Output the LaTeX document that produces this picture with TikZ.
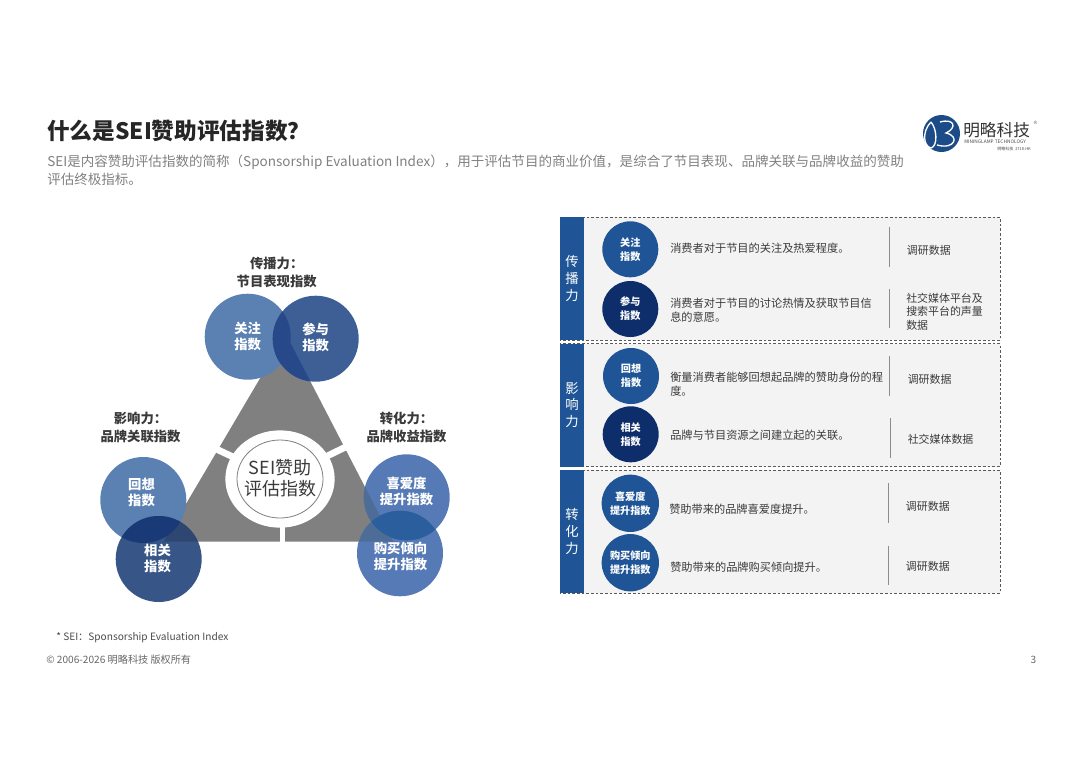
\documentclass[tikz,border=0pt]{standalone}
\usepackage{fontspec}
\setmainfont{Noto Sans CJK SC}
\usetikzlibrary{shapes.geometric}
\definecolor{midblue}{HTML}{5B80B2}
\definecolor{deepblue}{HTML}{3D5F96}
\definecolor{lensblue}{HTML}{27498A}
\definecolor{barblue}{HTML}{1F5596}
\definecolor{navyblue}{HTML}{0E2E6B}
\definecolor{panelgray}{HTML}{F3F3F3}
\definecolor{subgray}{HTML}{808080}
\definecolor{darktext}{HTML}{3A3A3A}
\begin{document}
\begin{tikzpicture}[x=0.75pt,y=-0.75pt,
  bubble/.style={circle,minimum size=64.5pt,inner sep=0pt},
  bubbletext/.style={inner sep=0pt,text=white,align=center,
    font=\fontsize{10}{12}\selectfont\bfseries},
  smallbubble/.style={circle,minimum size=42pt,inner sep=0pt,text=white,align=center,
    font=\fontsize{7.6}{10.5}\selectfont\bfseries},
  groupname/.style={align=center,text=darktext,font=\fontsize{10}{14}\selectfont\bfseries},
  barbox/.style={fill=barblue,minimum width=18pt,inner sep=0pt,text=white,align=center,
    font=\fontsize{10}{12.5}\selectfont},
  panelbox/.style={fill=panelgray,draw=black!65,line width=0.7pt,dash pattern=on 2pt off 1.5pt},
  descr/.style={anchor=west,inner sep=0pt,align=left,text=darktext,
    font=\fontsize{8.4}{10.5}\selectfont},
  source/.style={anchor=west,inner sep=0pt,align=left,text=darktext,
    font=\fontsize{8.2}{10}\selectfont},
  divider/.style={draw=black!45,line width=0.8pt},
  logoline/.style={draw=white,line width=1pt}]
  \useasboundingbox (0,0) rectangle (1080,764);
  % heading
  \node[anchor=west,inner sep=0pt,text=black!85,font=\fontsize{17}{20}\selectfont\bfseries] (title) at (47,131) {什么是SEI赞助评估指数？};
  \node[anchor=north west,inner sep=0pt,align=left,text=subgray,font=\fontsize{10.15}{13.5}\selectfont] (intro) at (47,155) {SEI是内容赞助评估指数的简称（Sponsorship Evaluation Index），用于评估节目的商业价值，是综合了节目表现、品牌关联与品牌收益的赞助\\评估终极指标。};
  % logo
  \fill[barblue!90!black] (941.5,133.5) circle (18.5);
  \draw[logoline] (931,122) .. controls (922,131) and (923,146) .. (931,148) .. controls (938,146) and (937,129) .. (931,122);
  \draw[logoline] (940,122) .. controls (955,118) and (957,128) .. (946,133) .. controls (960,136) and (955,150) .. (937,145);
  \node[anchor=west,inner sep=0pt,text=black!80,font=\fontsize{12.5}{14}\selectfont] (brand) at (963,130) {明略科技};
  \node[inner sep=0pt,text=black!50,font=\fontsize{6}{6}\selectfont] (regmark) at (1035.5,124.5) {®};
  \node[anchor=west,inner sep=0pt,text=black!70,font=\fontsize{3.6}{4}\selectfont] (brandeng) at (964,142) {MININGLAMP TECHNOLOGY};
  \node[anchor=east,inner sep=0pt,text=black!70,font=\fontsize{3}{4}\selectfont] (brandcode) at (1031,149) {明略科技\ \ 2718.HK};
  % triangle
  \coordinate (apex) at (286,334.3);
  \coordinate (leftcorner) at (163.7,541.7);
  \coordinate (rightcorner) at (393.3,541.7);
  \coordinate (gapleft) at (197,440);
  \coordinate (gapright) at (360,440);
  \coordinate (gapbottom) at (282.3,545);
  \fill[black!50] (apex) -- (leftcorner) -- (rightcorner) -- cycle;
  \coordinate (seicentre) at (280,479);
  \draw[white,line width=5pt] (seicentre) -- (gapleft);
  \draw[white,line width=5pt] (seicentre) -- (gapright);
  \draw[white,line width=3.4pt] (282.3,479) -- (gapbottom);
  \node[ellipse,fill=white,minimum width=82pt,minimum height=73pt,inner sep=0pt] (seiouter) at (seicentre) {};
  \draw[black!50,line width=0.6pt] (seicentre) ellipse (43 and 39);
  \node[inner sep=0pt,align=center,text=darktext,font=\fontsize{13.5}{15.5}\selectfont] (sei) at (280,478) {SEI赞助\\评估指数};
  % left circles
  \node[bubble,fill=midblue] (guanzhu) at (247.7,336.7) {};
  \node[bubble,fill=deepblue] (canyu) at (315.7,338.7) {};
  \node[bubble,fill=midblue] (huixiang) at (143.3,500) {};
  \node[bubble,fill=deepblue!90!black] (xiangguan) at (158.7,559) {};
  \node[bubble,fill=midblue!95!blue] (xiai) at (406.7,497.3) {};
  \node[bubble,fill=midblue!95!blue] (goumai) at (400,553.3) {};
  \begin{scope}
    \clip (315.7,338.7) circle (43);
    \fill[lensblue] (247.7,336.7) circle (43);
    \fill[lensblue] (apex) -- (leftcorner) -- (rightcorner) -- cycle;
  \end{scope}
  \begin{scope}
    \clip (158.7,559) circle (43);
    \fill[deepblue!75!black] (apex) -- (leftcorner) -- (rightcorner) -- cycle;
    \fill[navyblue!85!midblue] (143.3,500) circle (43);
  \end{scope}
  \begin{scope}
    \clip (406.7,497.3) circle (43);
    \fill[midblue!85!black] (apex) -- (leftcorner) -- (rightcorner) -- cycle;
    \fill[barblue!80!midblue] (400,553.3) circle (42.5);
  \end{scope}
  \begin{scope}
    \clip (400,553.3) circle (42.5);
    \fill[midblue!85!black] (apex) -- (leftcorner) -- (rightcorner) -- cycle;
    \clip (406.7,497.3) circle (43);
    \fill[barblue!80!midblue] (400,553.3) circle (42.5);
  \end{scope}
  \node[bubbletext] (guanzhutext) at (247.7,336) {关注\\指数};
  \node[bubbletext] (canyutext) at (315.7,337.5) {参与\\指数};
  \node[bubbletext] (huixiangtext) at (141.5,492) {回想\\指数};
  \node[bubbletext] (xiangguantext) at (157.5,558) {相关\\指数};
  \node[bubbletext] (xiaitext) at (406.5,491) {喜爱度\\提升指数};
  \node[bubbletext] (goumaitext) at (400.5,556) {购买倾向\\提升指数};
  \node[groupname] (spread) at (276.7,272.5) {传播力：\\节目表现指数};
  \node[groupname] (influence) at (140.5,427.5) {影响力：\\品牌关联指数};
  \node[groupname] (convert) at (406.5,427.5) {转化力：\\品牌收益指数};
  % right panel
  \draw[panelbox] (560,217) rectangle (1000,340);
  \draw[panelbox] (560,343.5) rectangle (1000,466.5);
  \draw[panelbox] (560,470) rectangle (1000,593);
  \node[barbox,minimum height=92.25pt] (barone) at (572,278.5) {传\\播\\力};
  \node[barbox,minimum height=92.25pt] (bartwo) at (572,405) {影\\响\\力};
  \node[barbox,minimum height=92.25pt] (barthree) at (572,531.5) {转\\化\\力};
  \node[smallbubble,fill=barblue] (rowa) at (630.3,249.3) {关注\\指数};
  \node[smallbubble,fill=navyblue] (rowb) at (630.3,309) {参与\\指数};
  \node[smallbubble,fill=barblue] (rowc) at (631,376) {回想\\指数};
  \node[smallbubble,fill=navyblue] (rowd) at (630.7,434.3) {相关\\指数};
  \node[smallbubble,fill=barblue,minimum size=43pt] (rowe) at (630.3,503.3) {喜爱度\\提升指数};
  \node[smallbubble,fill=barblue,minimum size=43pt] (rowf) at (630.3,562.7) {购买倾向\\提升指数};
  \node[descr] (texta) at (670,248.7) {消费者对于节目的关注及热爱程度。};
  \node[descr] (textb) at (670,310.3) {消费者对于节目的讨论热情及获取节目信\\息的意愿。};
  \node[descr] (textc) at (670,384.7) {衡量消费者能够回想起品牌的赞助身份的程\\度。};
  \node[descr] (textd) at (670,435.3) {品牌与节目资源之间建立起的关联。};
  \node[descr] (texte) at (669,509.3) {赞助带来的品牌喜爱度提升。};
  \node[descr] (textf) at (670,567.7) {赞助带来的品牌购买倾向提升。};
  \draw[divider] (889.5,226.7) -- (889.5,266.7);
  \draw[divider] (889.5,289.3) -- (889.5,328.3);
  \draw[divider] (889.5,356) -- (889.5,395.7);
  \draw[divider] (890.5,418.3) -- (890.5,458.3);
  \draw[divider] (888.5,483) -- (888.5,523);
  \draw[divider] (888.5,545.7) -- (888.5,585);
  \node[source] (sourcea) at (906.7,250.7) {调研数据};
  \node[source] (sourceb) at (906,311.7) {社交媒体平台及\\搜索平台的声量\\数据};
  \node[source] (sourcec) at (907.5,379) {调研数据};
  \node[source] (sourced) at (907.5,439) {社交媒体数据};
  \node[source] (sourcee) at (905.7,506.7) {调研数据};
  \node[source] (sourcef) at (905.7,566) {调研数据};
  % foot
  \node[anchor=west,inner sep=0pt,text=black!70,font=\fontsize{7.6}{9}\selectfont] (footnote) at (56,638) {* SEI：Sponsorship Evaluation Index};
  \node[anchor=west,inner sep=0pt,text=black!60,font=\fontsize{7.6}{9}\selectfont] (copyright) at (46,660) {© 2006-2026 明略科技 版权所有};
  \node[inner sep=0pt,text=black!60,font=\fontsize{7.6}{9}\selectfont] (pageno) at (1033.5,660) {3};
\end{tikzpicture}
\end{document}
